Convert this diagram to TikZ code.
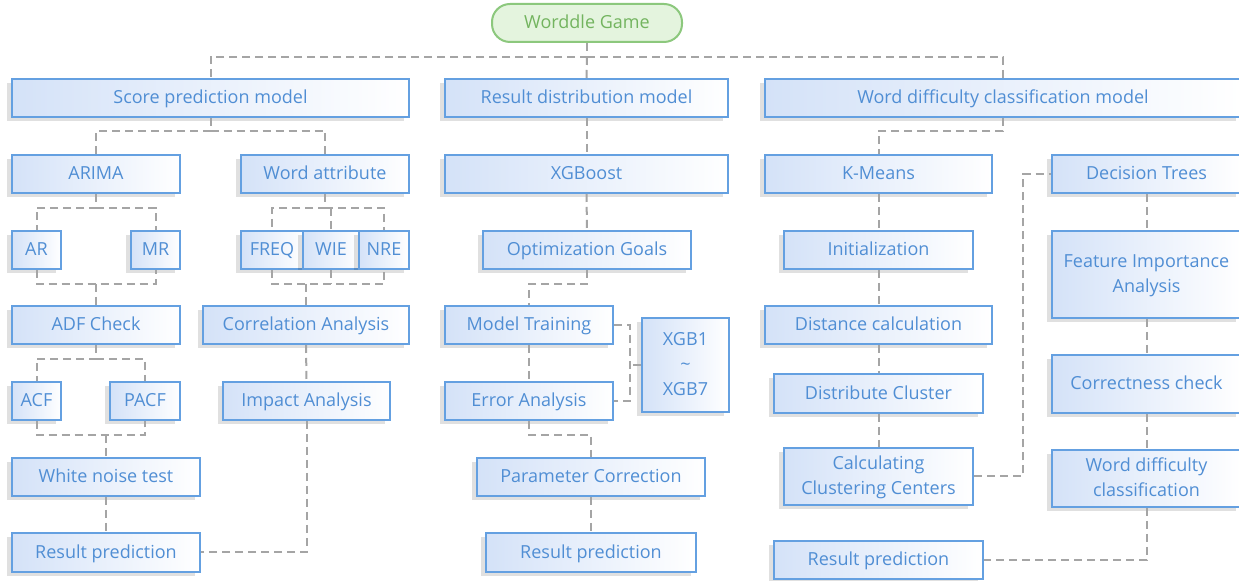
\documentclass[tikz,border=0pt]{standalone}
\usepackage{fontspec}
\setmainfont{Open Sans}
\usetikzlibrary{shadows,calc}
\definecolor{bxline}{RGB}{100,160,225}
\definecolor{bxtext}{RGB}{80,142,212}
\definecolor{bxfill}{RGB}{212,226,248}
\definecolor{gmline}{RGB}{140,200,125}
\definecolor{gmfill}{RGB}{228,244,222}
\definecolor{gmtext}{RGB}{115,180,95}
\definecolor{cnline}{RGB}{165,165,165}
\newcommand\bxstrut{\rule[-2.8pt]{0pt}{11.6pt}}
\tikzset{
  box/.style={draw=bxline, line width=1pt, left color=bxfill, right color=white,
    text=bxtext, font=\fontsize{9}{12.5}\selectfont, align=center, inner sep=1pt,
    drop shadow={shadow xshift=-2.5pt, shadow yshift=-2pt, opacity=0.12, fill=black}},
  game/.style={draw=gmline, line width=1pt, fill=gmfill, text=gmtext, rounded corners=9pt,
    font=\fontsize{9}{12}\selectfont, inner sep=1pt},
  conn/.style={draw=cnline, line width=1pt, dash pattern=on 4pt off 2.5pt}
}
\newcommand\bx[7][]{\node[box,#1,minimum width={(#4-#2)*0.5pt},minimum height={(#5-#3)*0.5pt}] (#6) at ({(#2+#4)/2},{(#3+#5)/2}) {\bxstrut #7\bxstrut};}
\begin{document}
\begin{tikzpicture}[x=0.5pt,y=-0.5pt]
\useasboundingbox[fill=white] (0,0) rectangle (1239,581);
\node[game,minimum width=95pt,minimum height=19pt] (game) at (587,23) {\bxstrut Worddle Game};
% row 1
\bx{12}{79}{409}{117}{score}{Score prediction model}
\bx{445}{79}{728}{117}{rdm}{Result distribution model}
\bx{765}{79}{1241}{117}{wdm}{Word difficulty classification model}
% row 2
\bx{12}{155}{180}{193}{arima}{ARIMA}
\bx{241}{155}{409}{193}{wattr}{Word attribute}
\bx{445}{155}{728}{193}{xgb}{XGBoost}
\bx{765}{155}{992}{193}{km}{K-Means}
\bx{1052}{155}{1241}{193}{dt}{Decision Trees}
% row 3
\bx{12}{231}{61}{269}{ar}{AR}
\bx{131}{231}{180}{269}{mr}{MR}
\bx{241}{231}{303}{269}{freq}{FREQ}
\bx{303}{231}{359}{269}{wie}{WIE}
\bx{359}{231}{409}{269}{nre}{NRE}
\bx{483}{231}{691}{269}{opt}{Optimization Goals}
\bx{784}{231}{973}{269}{init}{Initialization}
\bx{1052}{231}{1241}{318}{fia}{Feature Importance\\Analysis}
% row 4
\bx{12}{306}{180}{344}{adf}{ADF Check}
\bx{203}{306}{409}{344}{corr}{Correlation Analysis}
\bx{445}{306}{613}{344}{mt}{Model Training}
\bx{642}{318}{729}{412}{xgbn}{XGB1\\\textasciitilde\\XGB7}
\bx{765}{306}{992}{344}{dist}{Distance calculation}
% row 5
\bx{12}{382}{61}{420}{acf}{ACF}
\bx{110}{382}{180}{420}{pacf}{PACF}
\bx{223}{382}{390}{420}{imp}{Impact Analysis}
\bx{445}{382}{613}{420}{ea}{Error Analysis}
\bx{774}{374}{983}{413}{distr}{Distribute Cluster}
\bx{1052}{355}{1241}{413}{cc}{Correctness check}
% row 6
\bx{12}{458}{200}{496}{wnt}{White noise test}
\bx{477}{458}{705}{496}{pc}{Parameter Correction}
\bx{784}{448}{973}{505}{calc}{Calculating\\Clustering Centers}
\bx{1052}{450}{1241}{507}{wdc}{Word difficulty\\classification}
% row 7
\bx{12}{533}{200}{572}{resl}{Result prediction}
\bx{486}{533}{696}{572}{resm}{Result prediction}
\bx{774}{541}{983}{579}{resr}{Result prediction}
% connectors
\draw[conn] (game.south) -- ++(0,14) coordinate (g1) -| (score.north);
\draw[conn] (g1) -| (wdm.north);
\draw[conn] (g1) -- (rdm.north);
\draw[conn] (score.south) -- ++(0,13) coordinate (s1) -| (arima.north);
\draw[conn] (s1) -| (wattr.north);
\draw[conn] (arima.south) -- ++(0,14) coordinate (a1) -| (ar.north);
\draw[conn] (a1) -| (mr.north);
\draw[conn] (wattr.south) -- ++(0,14) coordinate (w1) -| (freq.north);
\draw[conn] (w1) -| (nre.north);
\draw[conn] (w1 -| wie.north) -- (wie.north);
\draw[conn] (ar.south) -- ++(0,14) coordinate (b1) -- (b1 -| mr.south) -- (mr.south);
\draw[conn] (b1 -| adf.north) -- (adf.north);
\draw[conn] (freq.south) -- ++(0,14) coordinate (c1) -- (c1 -| nre.south) -- (nre.south);
\draw[conn] (wie.south) -- (wie.south |- c1);
\draw[conn] (c1 -| corr.north) -- (corr.north);
\draw[conn] (adf.south) -- ++(0,14) coordinate (d0) -| (acf.north);
\draw[conn] (d0) -| (pacf.north);
\draw[conn] (acf.south) -- ++(0,14) coordinate (d1) -- (d1 -| pacf.south) -- (pacf.south);
\draw[conn] (d1 -| wnt.north) -- (wnt.north);
\draw[conn] (wnt.south) -- (resl.north);
\draw[conn] (corr.south) -- (imp.north);
\draw[conn] (imp.south) |- (resl.east);
\draw[conn] (rdm.south) -- (xgb.north);
\draw[conn] (xgb.south) -- (opt.north);
\draw[conn] (opt.south) -- ++(0,14) coordinate (o1) -| (mt.north);
\draw[conn] (mt.south) -- (ea.north);
\draw[conn] (ea.south) -- ++(0,14) coordinate (e0) -| (pc.north);
\draw[conn] (pc.south) -- (resm.north);
\draw[conn] (mt.east) -- ++(16,0) coordinate (e1) -- (e1 |- ea.east) -- (ea.east);
\draw[conn] (xgbn.west) -- (xgbn.west -| e1);
\draw[conn] (wdm.south) -- ++(0,13) coordinate (k0) -| (km.north);
\draw[conn] (km.south) -- (init.north);
\draw[conn] (init.south) -- (dist.north);
\draw[conn] (dist.south) -- (distr.north);
\draw[conn] (distr.south) -- (calc.north);
\draw[conn] (calc.east) -- ++(49,0) |- (dt.west);
\draw[conn] (dt.south) -- (fia.north);
\draw[conn] (fia.south) -- (cc.north);
\draw[conn] (cc.south) -- (wdc.north);
\draw[conn] (wdc.south) |- (resr.east);
\end{tikzpicture}
\end{document}
